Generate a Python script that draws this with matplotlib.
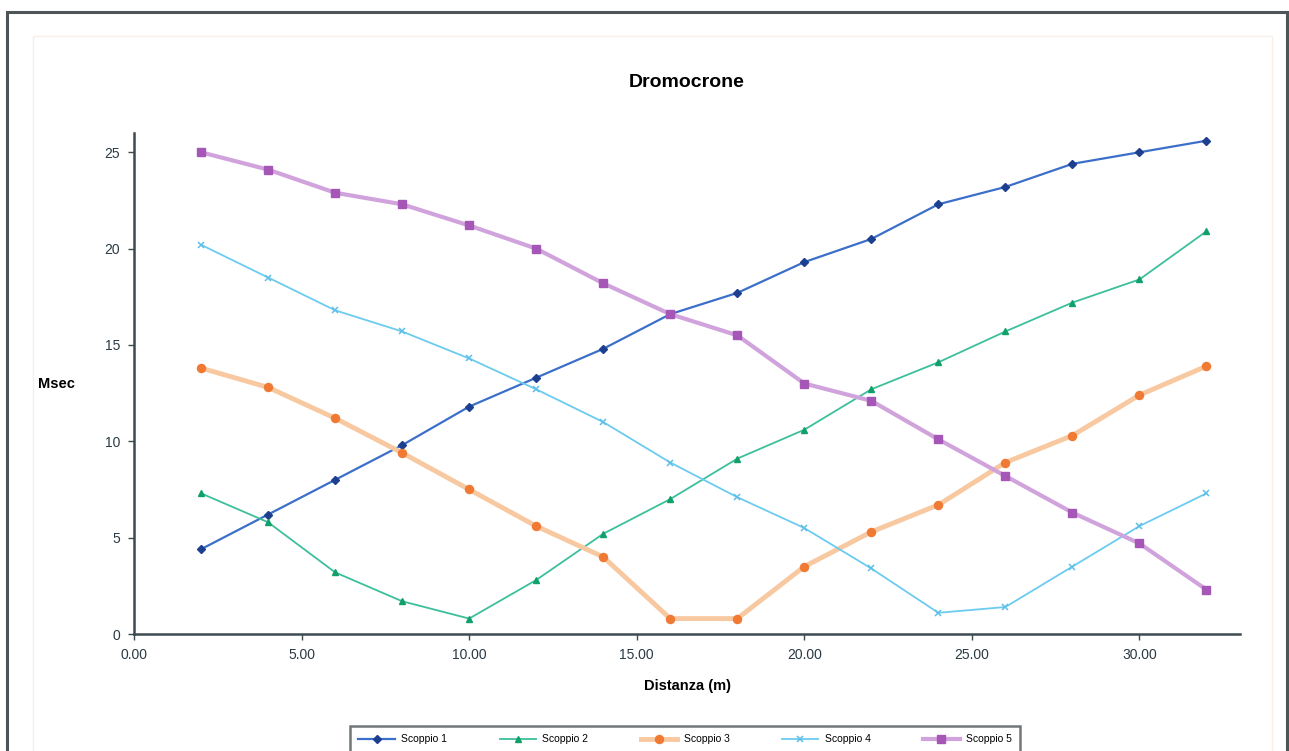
import numpy as np
import matplotlib.pyplot as plt
from matplotlib.patches import Rectangle
import matplotlib
matplotlib.rcParams['font.family'] = ['Liberation Sans', 'DejaVu Sans']

# distanze dei geofoni (m)
dist = [2, 4, 6, 8, 10, 12, 14, 16, 18, 20, 22, 24, 26, 28, 30, 32]

# tempi di primo arrivo (msec) per ogni scoppio
scoppio1 = [4.4, 6.2, 8.0, 9.8, 11.8, 13.3, 14.8, 16.6, 17.7, 19.3, 20.5, 22.3, 23.2, 24.4, 25.0, 25.6]
scoppio2 = [7.3, 5.8, 3.2, 1.7, 0.8, 2.8, 5.2, 7.0, 9.1, 10.6, 12.7, 14.1, 15.7, 17.2, 18.4, 20.9]
scoppio3 = [13.8, 12.8, 11.2, 9.4, 7.5, 5.6, 4.0, 0.8, 0.8, 3.5, 5.3, 6.7, 8.9, 10.3, 12.4, 13.9]
scoppio4 = [20.2, 18.5, 16.8, 15.7, 14.3, 12.7, 11.0, 8.9, 7.1, 5.5, 3.4, 1.1, 1.4, 3.5, 5.6, 7.3]
scoppio5 = [25.0, 24.1, 22.9, 22.3, 21.2, 20.0, 18.2, 16.6, 15.5, 13.0, 12.1, 10.1, 8.2, 6.3, 4.7, 2.3]

nomi = ['Scoppio 1', 'Scoppio 2', 'Scoppio 3', 'Scoppio 4', 'Scoppio 5']
xticks = [0, 5, 10, 15, 20, 25, 30]
yticks = [0, 5, 10, 15, 20, 25]

W, H = 1289, 751
fig = plt.figure(figsize=(W / 100, H / 100), dpi=100, facecolor='white')

# cornice del grafico
fig.patches.append(Rectangle((7 / W, -0.05), (1287 - 7) / W, (H - 12) / H + 0.05,
                             transform=fig.transFigure, fill=False,
                             edgecolor='#4d5558', linewidth=2.2, zorder=0))
fig.patches.append(Rectangle((33 / W, -0.05), (1272 - 33) / W, (H - 36) / H + 0.05,
                             transform=fig.transFigure, fill=False,
                             edgecolor='#f8efe8', linewidth=1.0, zorder=0))

ax = fig.add_axes([134 / W, (H - 634) / H, (1240 - 134) / W, (634 - 133) / H])
ax.set_facecolor('white')

ax.plot(dist, scoppio1, color='#3c6fc9', lw=1.6, marker='D', ms=4.2,
        mfc='#1c3f8f', mec='#1c3f8f', label=nomi[0])
ax.plot(dist, scoppio2, color='#3cbf9c', lw=1.3, marker='^', ms=4.8,
        mfc='#11a06a', mec='#11a06a', label=nomi[1])
ax.plot(dist, scoppio3, color='#f8c8a0', lw=3.5, marker='o', ms=5.8,
        mfc='#f07a34', mec='#f07a34', label=nomi[2])
ax.plot(dist, scoppio4, color='#6ccbf0', lw=1.3, marker='x', ms=4.5, mew=1.1,
        mfc='#6ccbf0', mec='#5bbfe8', label=nomi[3])
ax.plot(dist, scoppio5, color='#d1a3dc', lw=3.0, marker='s', ms=5.2,
        mfc='#a556b6', mec='#a556b6', label=nomi[4])

ax.set_xlim(0, 33)
ax.set_ylim(0, 26)
ax.set_xticks(xticks)
ax.set_xticklabels([f'{v:.2f}' for v in xticks])
ax.set_yticks(yticks)

for s in ['top', 'right']:
    ax.spines[s].set_visible(False)
for s in ['left', 'bottom']:
    ax.spines[s].set_color('#3d4a50')
    ax.spines[s].set_linewidth(1.8)
ax.tick_params(direction='out', length=4, width=1, color='#3d4a50',
               labelsize=10, labelcolor='#2a3a44', pad=6)

ax.set_title('Dromocrone', fontsize=14, fontweight='bold', pad=33)
ax.set_xlabel('Distanza (m)', fontsize=10.5, fontweight='bold', labelpad=12)
ax.set_ylabel('Msec', fontsize=10.5, fontweight='bold', rotation=0,
              va='center', labelpad=0)
ax.yaxis.set_label_coords(-0.07, 0.5)

leg = fig.legend(loc='upper left', ncol=5, mode='expand',
                 bbox_to_anchor=(350 / W, (H - 726) / H, 670 / W, 0),
                 fontsize=7.5, frameon=True, fancybox=False,
                 handlelength=3.5, borderpad=0.8, borderaxespad=0,
                 handletextpad=0.6)
leg.get_frame().set_edgecolor('#4d5558')
leg.get_frame().set_linewidth(1.8)

fig.savefig('out.png', dpi=100, facecolor='white')
